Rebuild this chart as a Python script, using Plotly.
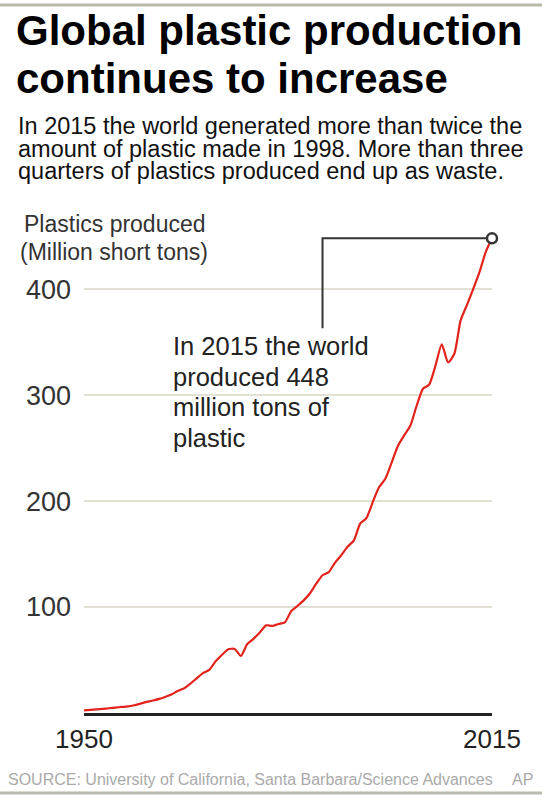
import plotly.graph_objects as go

# annual production, million short tons
years = list(range(1950, 2016))
produced = [
    2.5, 3.0, 3.4, 3.9, 4.5, 5.1, 5.7, 6.2, 7.3, 8.8,
    10.5, 11.8, 13.3, 15.4, 17.8, 21, 23.5, 28, 33, 37.8,
    41, 49, 55, 60.1, 60.5, 53.8, 65, 70, 76, 82.7,
    82.2, 84, 85.5, 96, 101, 106.3, 113, 122, 130, 133,
    142, 149, 157, 163, 178.7, 184, 199, 213, 221, 236,
    252, 262, 271.4, 290, 306, 310, 328, 348, 331, 339,
    370.5, 385, 400, 416, 435, 448,
]
y_ticks = [100, 200, 300, 400]
x_ticks = [1950, 2015]

title_lines = ["Global plastic production", "continues to increase"]
intro_lines = [
    "In 2015 the world generated more than twice the",
    "amount of plastic made in 1998. More than three",
    "quarters of plastics produced end up as waste.",
]
axis_lines = ["Plastics produced", "(Million short tons)"]
note_lines = ["In 2015 the world", "produced 448", "million tons of", "plastic"]
source = "SOURCE: University of California, Santa Barbara/Science Advances"

FONT = "Liberation Sans, Arial, Helvetica, sans-serif"
W, H = 542, 800
L, R, T, B = 84, 50, 215, 87
pw, ph = W - L - R, H - T - B


def px(x):
    return (x - L) / pw


def py(y):
    return (H - B - y) / ph


fig = go.Figure()
fig.add_scatter(x=years, y=produced, mode="lines",
                line=dict(color="#e3231b", width=2.2, shape="spline", smoothing=0.6),
                hoverinfo="skip")
fig.add_scatter(x=[years[-1]], y=[produced[-1]], mode="markers", cliponaxis=False,
                marker=dict(size=10, color="white", line=dict(color="#333", width=2.5)),
                hoverinfo="skip")

# leader line from the end point to the note
lead_x, lead_bottom = 1988, 363
fig.add_shape(type="path", layer="between", xref="x", yref="y",
              path=f"M {years[-1]},{produced[-1]} L {lead_x},{produced[-1]} L {lead_x},{lead_bottom}",
              line=dict(color="#333", width=2))
# white box behind the note
fig.add_shape(type="rect", layer="between", xref="paper", yref="paper",
              x0=px(160), x1=px(380), y0=py(333), y1=py(458),
              fillcolor="white", line_width=0)
# rules at top and bottom
for yy in (5, 793):
    fig.add_shape(type="rect", xref="paper", yref="paper", x0=px(0), x1=px(W),
                  y0=py(yy - 1.5), y1=py(yy + 1.5), fillcolor="#b9b9ab", line_width=0)

ann = []
for i, t in enumerate(title_lines):
    ann.append(dict(text=f"<b>{t}</b>", x=px(14), y=py(30 + 48.3 * i),
                    font=dict(size=42, color="black")))
for i, t in enumerate(intro_lines):
    ann.append(dict(text=t, x=px(16), y=py(126 + 22.6 * i),
                    font=dict(size=23.5, color="#111")))
for i, t in enumerate(axis_lines):
    ann.append(dict(text=t, x=px(22 - 4 * i), y=py(224 + 27.5 * i),
                    font=dict(size=23, color="#333")))
for i, t in enumerate(note_lines):
    ann.append(dict(text=t, x=px(171), y=py(346 + 30.6 * i),
                    font=dict(size=25.5, color="#222")))
ann.append(dict(text=source, x=px(6), y=py(779), font=dict(size=16, color="#aaa")))
ann.append(dict(text="AP", x=px(535), y=py(779), xanchor="right",
                font=dict(size=16, color="#aaa")))
for a in ann:
    a.setdefault("xanchor", "left")
    a.update(xref="paper", yref="paper", yanchor="middle", showarrow=False, align="left")

fig.update_layout(
    width=W, height=H, margin=dict(l=L, r=R, t=T, b=B),
    paper_bgcolor="white", plot_bgcolor="white", showlegend=False,
    font=dict(family=FONT, color="#222"),
    annotations=ann,
    xaxis=dict(range=[1950, 2015], tickvals=x_ticks, showgrid=False, zeroline=False,
               showline=True, linecolor="#222", linewidth=2.5,
               tickfont=dict(size=26, color="#222"), ticklabelstandoff=1),
    yaxis=dict(range=[0, 470], tickvals=y_ticks, showgrid=True, gridcolor="#e2dfd5",
               gridwidth=2, zeroline=False, showline=False,
               tickfont=dict(size=27, color="#333"), ticklabelstandoff=12),
)

# the page has a default 8px body margin; drop it so the figure sits at 0,0
fig.write_html("out.html", config={"displayModeBar": False},
               post_script="document.body.style.margin='0';")
